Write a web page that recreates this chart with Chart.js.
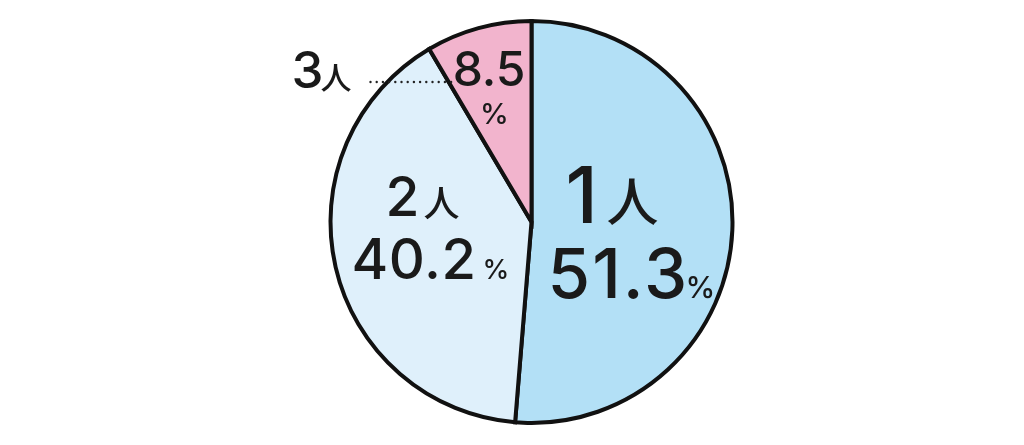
<!DOCTYPE html>
<html>
<head>
<meta charset="utf-8">
<script src="https://cdn.jsdelivr.net/npm/chart.js@4"></script>
<style>
  html, body { margin: 0; padding: 0; background: #ffffff; }
  #wrap { width: 1024px; height: 445px; }
</style>
</head>
<body>
<div id="wrap"><canvas id="pie" width="1024" height="445"></canvas></div>
<script>
// Household size share
const categories = ['1', '2', '3'];
const shares = [51.3, 40.2, 8.5];
const sliceColors = ['#b3e0f6', '#dff0fb', '#f2b4cd'];

const FONT = "Inter, 'Noto Sans', sans-serif";
const JP = "'Noto Sans CJK JP', sans-serif";

// label placement relative to the pie centre: [dx, dy(baseline), font px, letter spacing]
const labelLayout = [
    { num: [34, 1, 78], nin: [75, -1, 52], val: [16, 76, 69, 2], pct: [154, 76, 30] },
    { num: [-146, -6, 55], nin: [-108, -5, 36], val: [-180, 57, 56, 0.5], pct: [-49, 57, 27] },
    { num: [-240, -134, 51], nin: [-211, -133, 31], val: [-6, -136, 48, 0], pct: [-37, -98, 29] }
];

const labelPlugin = {
    id: 'sliceLabels',
    afterDatasetsDraw(chart) {
        const ctx = chart.ctx;
        const arcs = chart.getDatasetMeta(0).data;
        ctx.save();
        ctx.fillStyle = '#1a1a1a';
        ctx.textBaseline = 'alphabetic';
        arcs.forEach((arc, i) => {
            const cx = arc.x, cy = arc.y;
            const L = labelLayout[i];
            ctx.letterSpacing = '0px';
            ctx.textAlign = 'left';
            ctx.font = `500 ${L.num[2]}px ${FONT}`;
            ctx.fillText(categories[i], cx + L.num[0], cy + L.num[1]);
            ctx.font = `500 ${L.nin[2]}px ${JP}`;
            ctx.fillText('人', cx + L.nin[0], cy + L.nin[1]);
            ctx.font = `500 ${L.val[2]}px ${FONT}`;
            ctx.letterSpacing = L.val[3] + 'px';
            ctx.textAlign = i === 2 ? 'right' : 'left';
            ctx.fillText(shares[i].toFixed(1), cx + L.val[0], cy + L.val[1]);
            ctx.letterSpacing = '0px';
            ctx.textAlign = i === 2 ? 'center' : 'left';
            ctx.font = `500 ${L.pct[2]}px ${FONT}`;
            ctx.fillText('%', cx + L.pct[0], cy + L.pct[1]);
        });
        // dotted leader for the small slice
        const c = arcs[2];
        ctx.fillStyle = '#222';
        for (let x = c.x - 161; x <= c.x - 80; x += 6.2) {
            ctx.beginPath();
            ctx.arc(x, c.y - 140, 1.2, 0, Math.PI * 2);
            ctx.fill();
        }
        ctx.restore();
    }
};

new Chart(document.getElementById('pie').getContext('2d'), {
    type: 'pie',
    data: {
        labels: categories.map(c => c + '人'),
        datasets: [{
            data: shares,
            backgroundColor: sliceColors,
            borderColor: '#111111',
            borderWidth: 4,
            borderJoinStyle: 'miter'
        }]
    },
    options: {
        responsive: false,
        animation: false,
        layout: { padding: { top: 19, bottom: 20, left: 39, right: 0 } },
        plugins: {
            legend: { display: false },
            tooltip: { enabled: false }
        }
    },
    plugins: [labelPlugin]
});
</script>
</body>
</html>
